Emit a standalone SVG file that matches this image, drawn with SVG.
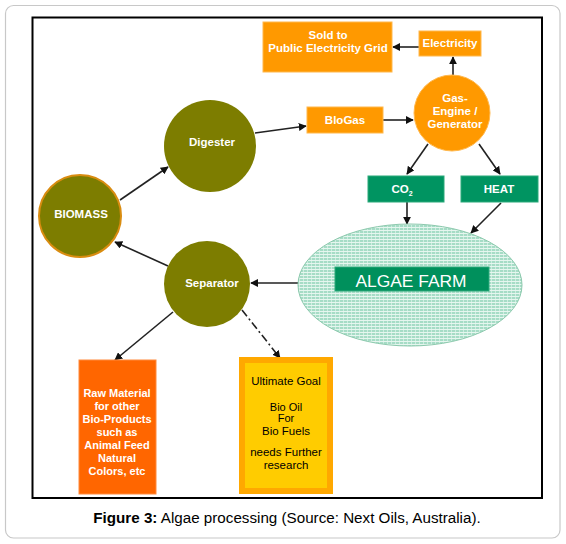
<svg xmlns="http://www.w3.org/2000/svg" width="566" height="544" viewBox="0 0 566 544">
<style>
.t{font-family:"Liberation Sans",Arial,sans-serif;font-size:11.5px;fill:#fff;text-anchor:middle}
.s{font-size:11px}
.b{font-weight:bold}
.k{fill:#000}
.big{font-size:17.4px}
.ln{stroke:#222;stroke-width:1.6;fill:none;marker-end:url(#ah)}
.olive{fill:#7d7d00}
.or{fill:#ff9900;stroke:#ffb84d;stroke-width:1}
.gr{fill:#009461;stroke:#2aa97a;stroke-width:1}
</style>
<defs>
<marker id="ah" viewBox="0 0 10 10" refX="9" refY="5" markerWidth="8" markerHeight="8" markerUnits="userSpaceOnUse" orient="auto">
<path d="M0,0 L10,5 L0,10 z" fill="#111"/>
</marker>
<pattern id="hatch" width="4" height="3" patternUnits="userSpaceOnUse">
<rect width="4" height="3" fill="#a6dcc6"/>
<rect y="2" width="4" height="1" fill="#e6f6ef"/>
<rect x="3" width="1" height="2" fill="#cdeee0"/>
</pattern>
</defs>
<rect x="5.5" y="5.5" width="554.5" height="532.5" rx="8" fill="#fff" stroke="#c8c8c8" stroke-width="1.2"/>
<rect x="32.5" y="17.5" width="509.5" height="480.5" fill="#fff" stroke="#000" stroke-width="2"/>

<g id="connectors">
<line class="ln" x1="419" y1="47" x2="393" y2="47"/>
<line class="ln" x1="453" y1="75" x2="453" y2="57"/>
<line class="ln" x1="255" y1="133" x2="306" y2="126"/>
<line class="ln" x1="383" y1="120" x2="413" y2="120"/>
<line class="ln" x1="428" y1="144" x2="407" y2="174"/>
<line class="ln" x1="479" y1="144" x2="500" y2="174"/>
<line class="ln" x1="407" y1="202" x2="407" y2="224"/>
<line class="ln" x1="501" y1="203" x2="471" y2="233"/>
<line class="ln" x1="298" y1="283" x2="251" y2="283"/>
<line class="ln" x1="120" y1="200" x2="168" y2="167"/>
<line class="ln" x1="168" y1="266" x2="115" y2="242"/>
<line class="ln" x1="173" y1="312" x2="115" y2="360"/>
<line class="ln" x1="242" y1="310" x2="280" y2="358" stroke-dasharray="8,3,2,3"/>
</g>

<g id="sold"><rect class="or" x="263" y="22" width="129" height="50"/>
<text class="t b" x="328" y="39">Sold to</text><text class="t b" x="328" y="52">Public Electricity Grid</text></g>
<g id="electricity"><rect class="or" x="419" y="31" width="62" height="25"/>
<text class="t b" x="450" y="47">Electricity</text></g>
<g id="gasengine"><circle cx="452" cy="113" r="38" fill="#ff9900" stroke="#ffb84d"/>
<text class="t b" x="455" y="102">Gas-</text><text class="t b" x="455" y="115">Engine /</text><text class="t b" x="455" y="128">Generator</text></g>
<g id="biogas"><rect class="or" x="307" y="107" width="76" height="26"/>
<text class="t b" x="345" y="124">BloGas</text></g>
<g id="co2"><rect class="gr" x="368" y="176" width="76" height="26"/>
<text class="t b" x="402" y="193">CO<tspan font-size="7" dy="3">2</tspan></text></g>
<g id="heat"><rect class="gr" x="461" y="176" width="77" height="26"/>
<text class="t b" x="499" y="193">HEAT</text></g>
<g id="algae"><ellipse cx="410" cy="285" rx="112" ry="61" fill="url(#hatch)" stroke="#8cc9ad" stroke-width="1"/>
<rect x="335" y="267" width="154" height="24" fill="#00905c" stroke="#2aa97a"/>
<text class="t big" x="411" y="287">ALGAE FARM</text></g>
<g id="digester"><circle class="olive" cx="210" cy="146" r="46"/>
<text class="t b" x="212" y="146">Digester</text></g>
<g id="biomass"><circle class="olive" cx="80" cy="216" r="41" stroke="#d98c10" stroke-width="2"/>
<text class="t b" x="81" y="218">BIOMASS</text></g>
<g id="separator"><circle class="olive" cx="207" cy="284" r="43"/>
<text class="t b" x="212" y="287">Separator</text></g>
<g id="rawmaterial"><rect x="79" y="360" width="77" height="134" fill="#ff6600" stroke="#ff8a3d"/>
<text class="t s b" x="117" y="397">Raw Material</text>
<text class="t s b" x="117" y="410">for other</text>
<text class="t s b" x="117" y="423">Bio-Products</text>
<text class="t s b" x="117" y="436">such as</text>
<text class="t s b" x="117" y="449">Animal Feed</text>
<text class="t s b" x="117" y="462">Natural</text>
<text class="t s b" x="117" y="475">Colors, etc</text></g>
<g id="ultimate"><rect x="239" y="357" width="94" height="137" fill="#ffa800"/>
<rect x="245" y="363" width="82" height="125" fill="#ffcc00"/>
<text class="t k" x="286" y="385">Ultimate Goal</text>
<text class="t k s" x="286" y="411">Bio Oil</text>
<text class="t k s" x="286" y="422">For</text>
<text class="t k" x="286" y="435">Bio Fuels</text>
<text class="t k" x="286" y="456">needs Further</text>
<text class="t k" x="286" y="469">research</text></g>

<text x="287" y="523" font-family="'Liberation Sans',Arial,sans-serif" font-size="15.2" text-anchor="middle" fill="#000"><tspan font-weight="bold">Figure 3:</tspan> Algae processing (Source: Next Oils, Australia).</text>
</svg>
